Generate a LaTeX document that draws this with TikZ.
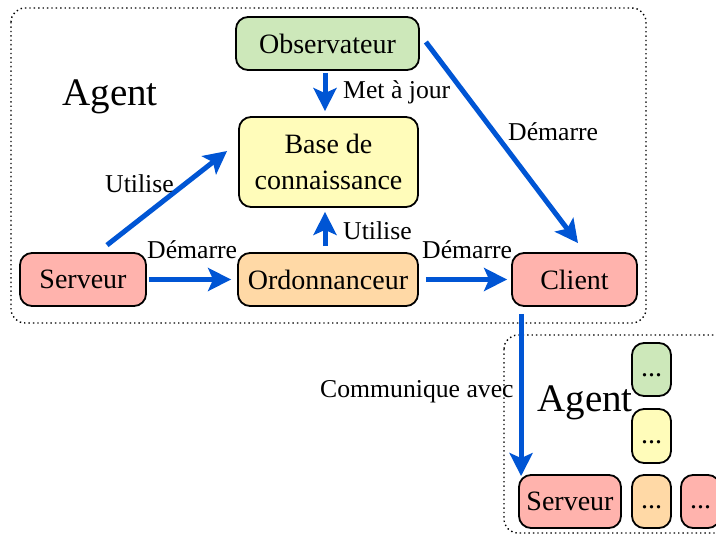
\documentclass[tikz,border=0pt]{standalone}
\usepackage{fontspec}
\setmainfont{Liberation Serif}
\usetikzlibrary{arrows.meta,calc}
\definecolor{flow}{RGB}{0,85,212}
\definecolor{obsfill}{RGB}{205,232,186}
\definecolor{basefill}{RGB}{255,252,186}
\definecolor{ordfill}{RGB}{255,217,166}
\definecolor{srvfill}{RGB}{255,179,173}
\tikzset{
  box/.style={draw=black, line width=1.8pt, rounded corners=12pt, inner sep=0pt,
    font=\fontsize{28}{36}\selectfont, align=center},
  agentframe/.style={draw=black, line width=1.4pt, dash pattern=on 1.4pt off 3pt, rounded corners=14pt},
  agentname/.style={font=\fontsize{39}{45}\selectfont, inner sep=0pt, anchor=base},
  flowarrow/.style={draw=flow, line width=5pt, -{Stealth[length=23pt, width=23pt, inset=5pt]}},
  lbl/.style={font=\fontsize{25.7}{32}\selectfont, inner sep=0pt, anchor=base west},
}
\begin{document}
\begin{tikzpicture}[x=1pt, y=-1pt]
  \useasboundingbox (0,0) rectangle (716,535);
  \clip (0,0) rectangle (716,535);

  % agent frames
  \draw[agentframe] (11,8) rectangle (646,323);
  \draw[agentframe] (504,335) rectangle (770,533);

  \node[agentname] (agentA) at (110,106) {Agent};
  \node[agentname] (agentB) at (585,411) {Agent};

  % components of the first agent
  \node[box, fill=obsfill,  minimum width=183pt, minimum height=53pt] (obs)    at (327.5,43.5) {Observateur};
  \node[box, fill=basefill, minimum width=179pt, minimum height=90pt] (base)   at (328.5,162)  {Base de\\connaissance};
  \node[box, fill=srvfill,  minimum width=126pt, minimum height=53pt] (serv)   at (83,279.5)   {Serveur};
  \node[box, fill=ordfill,  minimum width=180pt, minimum height=53pt] (ord)    at (328,279.5)  {Ordonnanceur};
  \node[box, fill=srvfill,  minimum width=125pt, minimum height=53pt] (client) at (574.5,279.5) {Client};

  % components of the second agent
  \node[box, fill=srvfill,  minimum width=102pt, minimum height=53pt] (serv2) at (570,501.5)   {Serveur};
  \node[box, fill=obsfill,  minimum width=39pt,  minimum height=53pt] (obs2)  at (651.5,369.5) {\strut...};
  \node[box, fill=basefill, minimum width=39pt,  minimum height=54pt] (base2) at (651.5,436)   {\strut...};
  \node[box, fill=ordfill,  minimum width=39pt,  minimum height=53pt] (ord2)  at (651.5,501.5) {\strut...};
  \node[box, fill=srvfill,  minimum width=39pt,  minimum height=53pt] (cli2)  at (700.5,501.5) {\strut...};

  % connectors
  \draw[flowarrow] ($(obs.south)+(-2.5,2)$) -- ($(base.north)+(-3.5,-5)$);
  \draw[flowarrow] ($(ord.north)+(-3,-6)$) -- ($(base.south)+(-3.5,4)$);
  \draw[flowarrow] ($(serv.east)+(2,0)$) -- ($(ord.west)+(-6,0)$);
  \draw[flowarrow] ($(ord.east)+(7,0)$) -- ($(client.west)+(-4,0)$);
  \draw[flowarrow] ($(serv.north)+(24,-7)$) -- ($(base.west)+(-11,-11)$);
  \draw[flowarrow] ($(obs.east)+(6,-1.5)$) -- ($(client.north)+(3.5,-9)$);
  \draw[flowarrow] ($(client.south west)+(10,7)$) -- ($(serv2.north west)+(3,2)$);

  % connector labels
  \node[lbl] (l1) at (343,99)  {Met à jour};
  \node[lbl] (l2) at (343,239) {Utilise};
  \node[lbl] (l3) at (105,193) {Utilise};
  \node[lbl] (l4) at (147,258) {Démarre};
  \node[lbl] (l5) at (422,258) {Démarre};
  \node[lbl] (l6) at (508,141) {Démarre};
  \node[lbl] (l7) at (320,397) {Communique avec};
\end{tikzpicture}
\end{document}
